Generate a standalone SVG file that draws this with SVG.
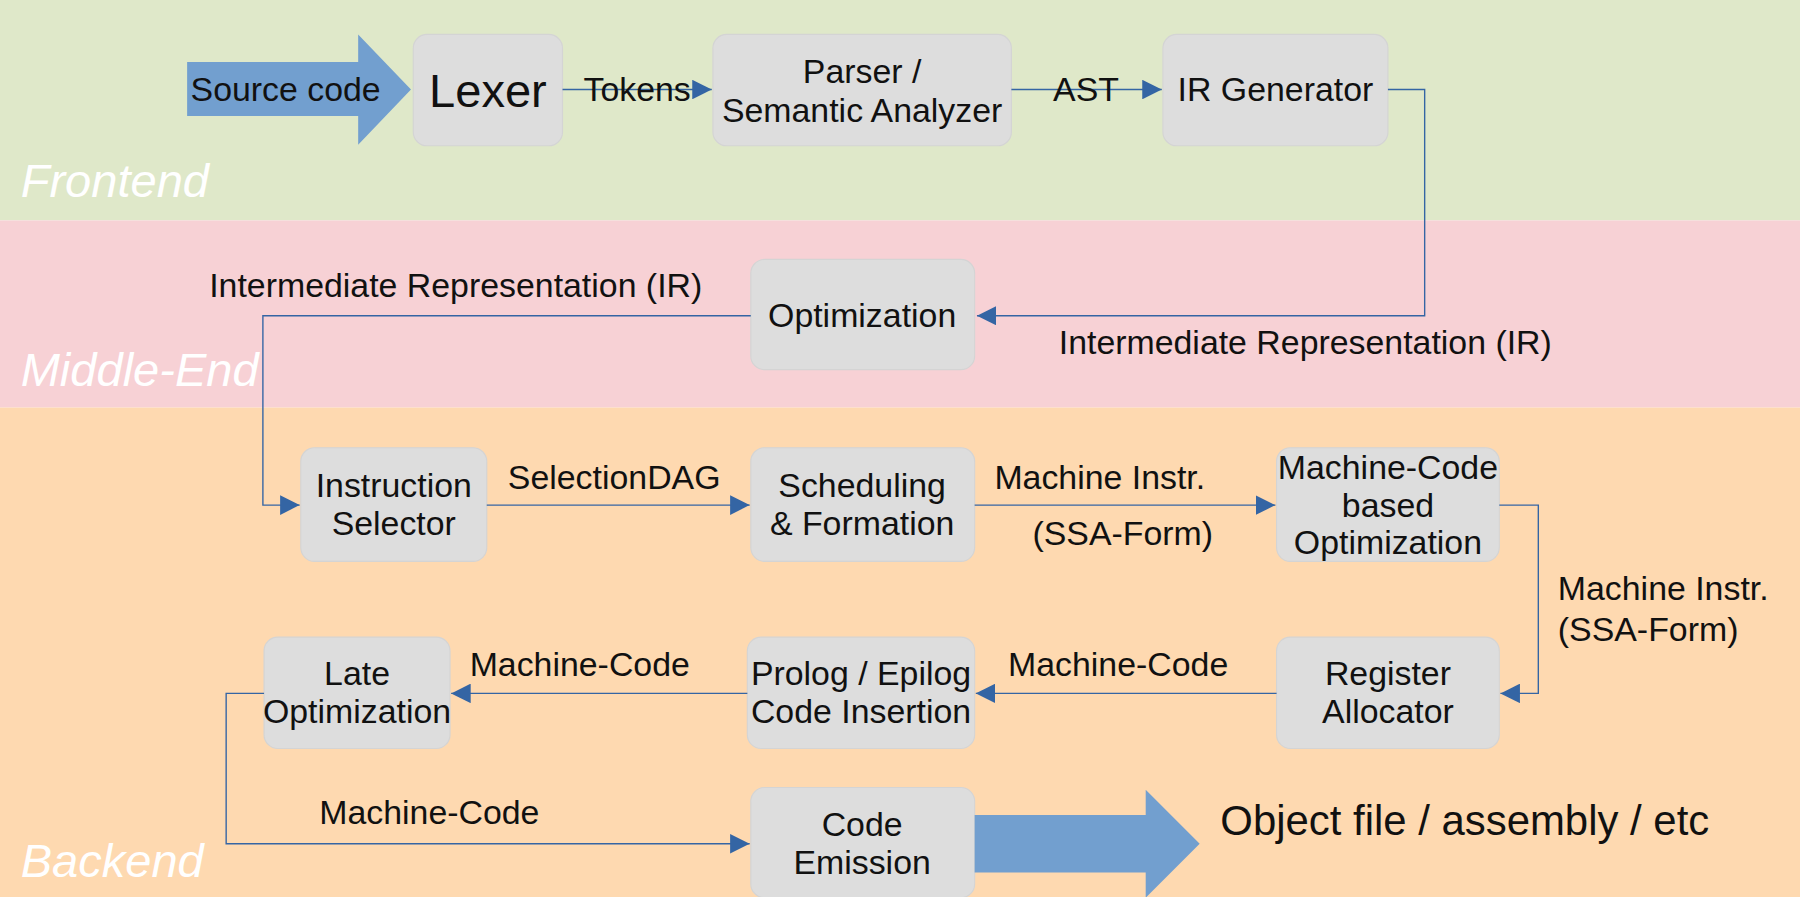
<svg xmlns="http://www.w3.org/2000/svg" width="1800" height="897" viewBox="0 0 1800 897">
<style>
text{font-family:"Liberation Sans",Arial,sans-serif;fill:#111;font-size:29.5px}
.c{text-anchor:middle}
.band{fill:#fff;font-style:italic;font-size:41px}
.box{fill:#dddddd;stroke:#d4d4d4;stroke-width:1}
.ln{fill:none;stroke:#3465a4;stroke-width:1.2}
.big{fill:#729fcf}
</style>
<defs>
<marker id="ah" viewBox="0 0 10 10" refX="10" refY="5" markerWidth="17" markerHeight="17" markerUnits="userSpaceOnUse" orient="auto"><path d="M0,0 L10,5 L0,10 z" fill="#3465a4"/></marker>
</defs>
<g transform="scale(1.148)">
<rect x="0" y="0" width="1568" height="192" fill="#dfe8c9"/>
<rect x="0" y="192" width="1568" height="163" fill="#f7d1d5"/>
<rect x="0" y="355" width="1568" height="430" fill="#fed9b0"/>
<text class="band" x="18" y="172">Frontend</text>
<text class="band" x="18" y="336">Middle-End</text>
<text class="band" x="18" y="764">Backend</text>

<g id="source"><path class="big" d="M163,54 H312 V30 L358,78 L312,126 V101 H163 z"/><text x="166" y="88">Source code</text></g>
<g id="lexer"><rect class="box" x="360" y="30" width="130" height="97" rx="12"/><text class="c" x="425" y="93" style="font-size:41px">Lexer</text></g>
<g id="parser"><rect class="box" x="621" y="30" width="260" height="97" rx="12"/><text class="c" x="751" y="72">Parser /</text><text class="c" x="751" y="106">Semantic Analyzer</text></g>
<g id="irgen"><rect class="box" x="1013" y="30" width="196" height="97" rx="12"/><text class="c" x="1111" y="88">IR Generator</text></g>
<g id="opt"><rect class="box" x="654" y="226" width="195" height="96" rx="12"/><text class="c" x="751" y="285">Optimization</text></g>
<g id="isel"><rect class="box" x="262" y="390" width="162" height="99" rx="12"/><text class="c" x="343" y="433">Instruction</text><text class="c" x="343" y="466">Selector</text></g>
<g id="sched"><rect class="box" x="654" y="390" width="195" height="99" rx="12"/><text class="c" x="751" y="433">Scheduling</text><text class="c" x="751" y="466">&amp; Formation</text></g>
<g id="mcopt"><rect class="box" x="1112" y="390" width="194" height="99" rx="12"/><text class="c" x="1209" y="417">Machine-Code</text><text class="c" x="1209" y="450">based</text><text class="c" x="1209" y="483">Optimization</text></g>
<g id="regalloc"><rect class="box" x="1112" y="555" width="194" height="97" rx="12"/><text class="c" x="1209" y="597">Register</text><text class="c" x="1209" y="630">Allocator</text></g>
<g id="prolog"><rect class="box" x="651" y="555" width="198" height="97" rx="12"/><text class="c" x="750" y="597">Prolog / Epilog</text><text class="c" x="750" y="630">Code Insertion</text></g>
<g id="late"><rect class="box" x="230" y="555" width="162" height="97" rx="12"/><text class="c" x="311" y="597">Late</text><text class="c" x="311" y="630">Optimization</text></g>
<g id="emit"><rect class="box" x="654" y="686" width="195" height="96" rx="12"/><text class="c" x="751" y="728">Code</text><text class="c" x="751" y="761">Emission</text></g>
<g id="object"><path class="big" d="M849,710 H998 V688 L1045,735 L998,782 V760 H849 z"/><text x="1063" y="727" style="font-size:36.5px">Object file / assembly / etc</text></g>

<g id="connectors">
<path class="ln" marker-end="url(#ah)" d="M490,78 H620"/>
<path class="ln" marker-end="url(#ah)" d="M881,78 H1012"/>
<path class="ln" marker-end="url(#ah)" d="M1209,78 H1241 V275 H851"/>
<path class="ln" marker-end="url(#ah)" d="M654,275 H229 V440 H261"/>
<path class="ln" marker-end="url(#ah)" d="M424,440 H653"/>
<path class="ln" marker-end="url(#ah)" d="M849,440 H1111"/>
<path class="ln" marker-end="url(#ah)" d="M1306,440 H1340 V604 H1307"/>
<path class="ln" marker-end="url(#ah)" d="M1112,604 H850"/>
<path class="ln" marker-end="url(#ah)" d="M651,604 H393"/>
<path class="ln" marker-end="url(#ah)" d="M230,604 H197 V735 H653"/>
<text class="c" x="555" y="88">Tokens</text>
<text class="c" x="946" y="88">AST</text>
<text class="c" x="1137" y="308">Intermediate Representation (IR)</text>
<text class="c" x="397" y="259">Intermediate Representation (IR)</text>
<text class="c" x="535" y="426">SelectionDAG</text>
<text class="c" x="958" y="426">Machine Instr.</text>
<text class="c" x="978" y="475">(SSA-Form)</text>
<text x="1357" y="523">Machine Instr.</text>
<text x="1357" y="558">(SSA-Form)</text>
<text class="c" x="974" y="589">Machine-Code</text>
<text class="c" x="505" y="589">Machine-Code</text>
<text class="c" x="374" y="718">Machine-Code</text>
</g>
</g>
</svg>
